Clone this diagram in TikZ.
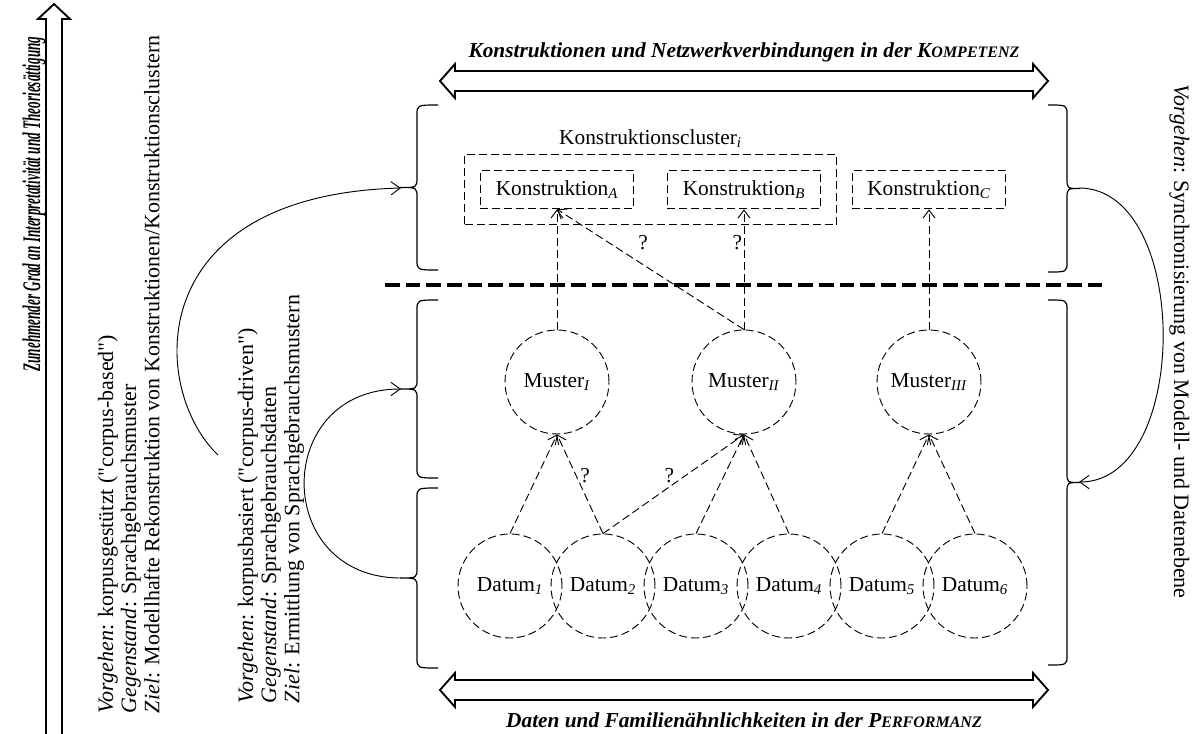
\documentclass[tikz,border=0pt]{standalone}
\usepackage{fontspec}
\setmainfont{Liberation Serif}[Ligatures=TeXOff]
\usetikzlibrary{positioning,arrows.meta,fit}

% small caps stand-in
\newcommand{\kap}[1]{{\fontsize{12}{13}\selectfont #1}}
% curly bracket: end x, bar x, tip x, top y, bottom y
\newcommand{\sidebrace}[5]{%
  \draw[line width=0.9pt] (#1,#4) .. controls (#2,#4) .. (#2,#4+10)
    -- (#2,{(#4+#5)/2-10}) .. controls (#2,{(#4+#5)/2}) .. (#3,{(#4+#5)/2})
    .. controls (#2,{(#4+#5)/2}) .. (#2,{(#4+#5)/2+10})
    -- (#2,#5-10) .. controls (#2,#5) .. (#1,#5);}

\tikzset{
  kbox/.style={draw, dash pattern=on 6pt off 3pt, minimum width=115pt, minimum height=29pt, inner sep=0pt},
  circ/.style={circle, draw, dash pattern=on 6pt off 3pt, minimum size=78pt, inner sep=0pt},
  link/.style={dash pattern=on 6pt off 3pt, -{Straight Barb[length=6pt,width=9pt]}},
  bow/.style={-{Straight Barb[length=7pt,width=10pt]}},
  divider/.style={line width=3pt, dash pattern=on 11pt off 4.5pt},
  hollow/.style={line width=1.4pt, line join=miter},
  qmark/.style={inner sep=1pt},
  upright/.style={rotate=90, font=\fontsize{16.5}{17.3}\selectfont},
  heading/.style={anchor=base, font=\fontsize{16}{17.3}\selectfont\bfseries\itshape}
}

\begin{document}
\begin{tikzpicture}[x=0.75pt, y=-0.75pt, font=\fontsize{16}{17.3}\selectfont, line width=0.7pt]
\useasboundingbox (0,0) rectangle (1196,733);

% vertical arrow and its title
\draw[hollow] (46,736) -- (46,19) -- (38,19) -- (54,4) -- (70,19) -- (62,19) -- (62,736);
\node[rotate=90, anchor=base, font=\fontsize{19}{20}\selectfont\bfseries\itshape] (title) at (40,204)
  {\scalebox{0.52}[1]{Zunehmender Grad an Interpretativität und Theoriesättigung}};

% left text blocks
\node[upright, anchor=north west, align=left] (based) at (93,718)
  {\textit{Vorgehen}: korpusgestützt ("corpus-based")\\
   \textit{Gegenstand}: Sprachgebrauchsmuster\\
   \textit{Ziel}: Modellhafte Rekonstruktion von Konstruktionen/Konstruktionsclustern};
\node[upright, anchor=north west, align=left] (driven) at (233,708)
  {\textit{Vorgehen}: korpusbasiert ("corpus-driven")\\
   \textit{Gegenstand}: Sprachgebrauchsdaten\\
   \textit{Ziel}: Ermittlung von Sprachgebrauchsmustern};

% right text
\node[upright, rotate=180, anchor=base west] (sync) at (1174,80)
  {\textit{Vorgehen}: Synchronisierung von Modell- und Datenebene};

% top and bottom double arrows
\node[heading] (komp) at (744,57)
  {Konstruktionen und Netzwerkverbindungen in der K\kap{OMPETENZ}};
\draw[hollow] (440,81) -- (455,64) -- (455,71) -- (1033,71) -- (1033,64) -- (1048,81)
  -- (1033,98) -- (1033,91) -- (455,91) -- (455,98) -- cycle;
\draw[hollow] (440,690) -- (455,673) -- (455,680) -- (1033,680) -- (1033,673) -- (1048,690)
  -- (1033,707) -- (1033,700) -- (455,700) -- (455,707) -- cycle;
\node[heading] (perf) at (744,727)
  {Daten und Familienähnlichkeiten in der P\kap{ERFORMANZ}};

% brackets
\sidebrace{438}{417}{400}{105}{270}
\sidebrace{438}{417}{400}{300}{478}
\sidebrace{438}{417}{400}{488}{668}
\sidebrace{1048}{1067}{1080}{105}{272}
\sidebrace{1048}{1067}{1080}{300}{665}
\coordinate (tipA) at (401,188);
\coordinate (tipB) at (401,389);
\coordinate (tipC) at (401,578);
\coordinate (tipR) at (1079,188);
\coordinate (tipS) at (1079,482);
\coordinate (start) at (218,455);

% level divider
\draw[divider] (385,285) -- (1102,285);

% constructions
\node[kbox] (konA) at (557,189.5) {Konstruktion\textsubscript{\textit{A}}};
\node[kbox] (konB) at (744,189.5) {Konstruktion\textsubscript{\textit{B}}};
\node[kbox] (konC) at (929,189.5) {Konstruktion\textsubscript{\textit{C}}};
\node[draw, dash pattern=on 6pt off 3pt, fit=(konA)(konB), inner sep=11.5pt] (cluster) {};
\node[above=1pt of cluster] (clabel) {Konstruktionscluster\textsubscript{\textit{i}}};

% patterns and data
\node[circ] (m1) at (557,382) {Muster\textsubscript{\textit{I}}};
\node[circ] (m2) at (744,382) {Muster\textsubscript{\textit{II}}};
\node[circ] (m3) at (929,382) {Muster\textsubscript{\textit{III}}};
\foreach \i in {1,...,6}
  \node[circ] (d\i) at ({510+93*(\i-1)},586) {Datum\textsubscript{\textit{\i}}};

% connections
\draw[link] (m1.north) -- (konA.south);
\draw[link] (m2.north) -- node[qmark, pos=.54, above=10pt] (q1) {?} (konA.south);
\draw[link] (m2.north) -- node[qmark, pos=.72, left=0pt] (q2) {?} (konB.south);
\draw[link] (m3.north) -- (konC.south);
\draw[link] (d1.north) -- (m1.south);
\draw[link] (d2.north) -- node[qmark, pos=.59, right=2pt] (q3) {?} (m1.south);
\draw[link] (d2.north) -- node[qmark, pos=.47, above=2pt] (q4) {?} (m2.south);
\foreach \a/\b in {d3/m2, d4/m2, d5/m3, d6/m3}
  \draw[link] (\a.north) -- (\b.south);

% curved arrows
\draw[bow] (start) .. controls (150,390) and (140,195) .. (tipA);
\draw[bow] (tipC) .. controls (272,578) and (272,389) .. (tipB);
\draw[bow] (tipR) .. controls (1191,188) and (1191,482) .. (tipS);
\end{tikzpicture}
\end{document}
